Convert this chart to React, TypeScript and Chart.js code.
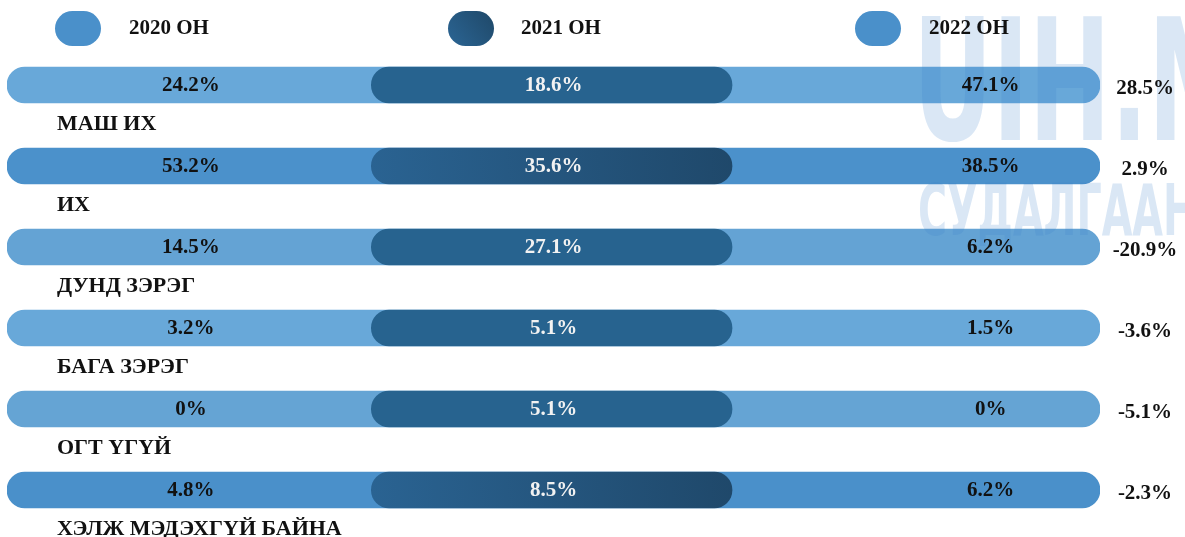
import React, { useEffect, useRef } from "react";
import { Chart, registerables } from "chart.js";

Chart.register(...registerables);

const categories = ["МАШ ИХ", "ИХ", "ДУНД ЗЭРЭГ", "БАГА ЗЭРЭГ", "ОГТ ҮГҮЙ", "ХЭЛЖ МЭДЭХГҮЙ БАЙНА"];
const years = ["2020 ОН", "2021 ОН", "2022 ОН"];
const values2020 = [24.2, 53.2, 14.5, 3.2, 0, 4.8];
const values2021 = [18.6, 35.6, 27.1, 5.1, 5.1, 8.5];
const values2022 = [47.1, 38.5, 6.2, 1.5, 0, 6.2];
const change = [28.5, 2.9, -20.9, -3.6, -5.1, -2.3];

const outerColors = ["#68a8d9", "#4b91cb", "#64a3d4", "#68a8d9", "#65a4d4", "#4a90ca"];
const gradientRows = [false, true, false, false, false, true];

const SERIF = '"Liberation Serif", "DejaVu Serif", serif';

function fmt(v: number) {
  return `${v}%`;
}

export default function App() {
  const ref = useRef<HTMLCanvasElement | null>(null);

  useEffect(() => {
    const canvas = ref.current;
    if (!canvas) return;

    const overlay = {
      id: "overlay",
      afterDatasetsDraw(chart: any) {
        const ctx = chart.ctx as CanvasRenderingContext2D;
        const xs = chart.scales.x;
        const ys = chart.scales.y;

        // watermark
        ctx.save();
        ctx.fillStyle = "rgba(60,130,200,0.19)";
        ctx.textBaseline = "alphabetic";
        ctx.textAlign = "left";
        ctx.save();
        ctx.translate(913, 140);
        ctx.scale(0.64, 1);
        ctx.font = 'bold 170px "DejaVu Sans Condensed", "DejaVu Sans", sans-serif';
        ctx.fillText("UIH.MN", 0, 0);
        ctx.restore();
        ctx.save();
        ctx.translate(918, 235);
        ctx.scale(0.62, 1);
        ctx.font = 'bold 71px "DejaVu Sans Condensed", "DejaVu Sans", sans-serif';
        ctx.fillText("СУДАЛГААНЫ", 0, 0);
        ctx.restore();
        ctx.restore();

        // legend
        const legendX = [55, 448, 855];
        const legendTextX = [129, 521, 929];
        ctx.save();
        years.forEach((y, i) => {
          const x = legendX[i];
          let fill: any = "#4a90ca";
          if (i === 1) {
            const g = ctx.createLinearGradient(x, 46, x + 46, 11);
            g.addColorStop(0, "#2b6594");
            g.addColorStop(1, "#1f4868");
            fill = g;
          }
          ctx.fillStyle = fill;
          ctx.beginPath();
          (ctx as any).roundRect(x, 11, 46, 35, 17.5);
          ctx.fill();
          ctx.fillStyle = "#111";
          ctx.font = `bold 21px ${SERIF}`;
          ctx.textAlign = "left";
          ctx.textBaseline = "middle";
          ctx.fillText(y, legendTextX[i], 29);
        });
        ctx.restore();

        // labels
        ctx.save();
        ctx.textBaseline = "middle";
        categories.forEach((c, i) => {
          const cy = ys.getPixelForValue(i);
          ctx.font = `bold 21px ${SERIF}`;
          ctx.textAlign = "center";
          ctx.fillStyle = "#111";
          ctx.fillText(fmt(values2020[i]), xs.getPixelForValue(0.505), cy + 1);
          ctx.fillStyle = "#f2f2f2";
          ctx.fillText(fmt(values2021[i]), xs.getPixelForValue(1.5), cy + 1);
          ctx.fillStyle = "#111";
          ctx.fillText(fmt(values2022[i]), xs.getPixelForValue(2.7), cy + 1);
          ctx.fillText(fmt(change[i]), 1145, cy + 4);
          ctx.font = `bold 22px ${SERIF}`;
          ctx.textAlign = "left";
          ctx.fillText(c, 57, cy + 39);
        });
        ctx.restore();
      },
    };

    const middleColor = (context: any) => {
      const i = context.dataIndex;
      if (!gradientRows[i]) return "#27638f";
      const chart = context.chart;
      const xs = chart.scales.x;
      const ys = chart.scales.y;
      if (!xs || !ys) return "#27638f";
      const cy = ys.getPixelForValue(i);
      const g = chart.ctx.createLinearGradient(xs.getPixelForValue(1), cy + 18, xs.getPixelForValue(2), cy - 18);
      g.addColorStop(0, "#2a6392");
      g.addColorStop(1, "#1f486a");
      return g;
    };

    const chart = new Chart(canvas, {
      type: "bar",
      data: {
        labels: categories,
        datasets: [
          {
            label: years[1],
            data: categories.map(() => [1, 1.99]) as any,
            backgroundColor: middleColor,
            borderSkipped: false,
            borderRadius: 18,
            barThickness: 36,
            grouped: false,
            order: 0,
          } as any,
          {
            label: years[0] + " / " + years[2],
            data: categories.map(() => [0, 3]) as any,
            backgroundColor: outerColors,
            borderSkipped: false,
            borderRadius: 18,
            barThickness: 36,
            grouped: false,
            order: 1,
          } as any,
        ],
      },
      options: {
        indexAxis: "y",
        responsive: false,
        animation: false,
        layout: { padding: { left: 7, right: 85, top: 44.5, bottom: 6.5 } },
        scales: {
          x: { type: "linear", min: 0, max: 3, display: false },
          y: { type: "category", display: false, offset: true },
        },
        plugins: {
          legend: { display: false },
          tooltip: { enabled: false },
          title: { display: false },
        },
      },
      plugins: [overlay],
    } as any);

    return () => chart.destroy();
  }, []);

  return (
    <div style={{ position: "fixed", left: 0, top: 0, width: 1185, height: 537, background: "#fff" }}>
      <canvas ref={ref} width={1185} height={537} style={{ display: "block" }} />
    </div>
  );
}
